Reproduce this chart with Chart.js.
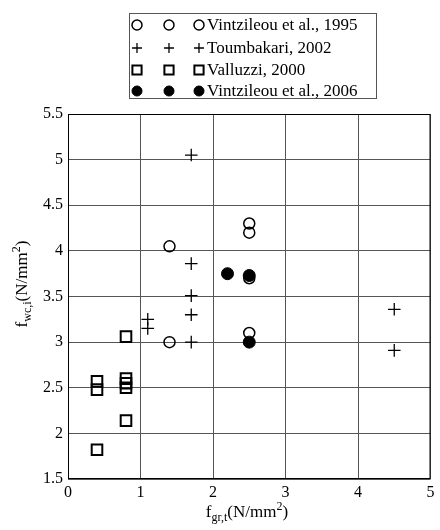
<!DOCTYPE html>
<html>
<head>
<meta charset="utf-8">
<script src="https://cdn.jsdelivr.net/npm/chart.js@4/dist/chart.umd.min.js"></script>
<style>
  html, body { margin: 0; padding: 0; background: #fff; }
  #wrap { width: 440px; height: 530px; position: relative; }
</style>
</head>
<body>
<div id="wrap"><canvas id="chart" width="440" height="530"></canvas></div>
<script>
// series data
var seriesNames = ["Vintzileou et al., 1995", "Toumbakari, 2002", "Valluzzi, 2000", "Vintzileou et al., 2006"];

var v1995X = [1.4, 1.4, 2.5, 2.5, 2.5, 2.5];
var v1995Y = [4.05, 3.0, 4.3, 4.2, 3.7, 3.1];

var toumbX = [1.7, 1.7, 1.7, 1.7, 1.7, 1.1, 1.1, 4.5, 4.5];
var toumbY = [5.05, 3.86, 3.51, 3.3, 3.0, 3.25, 3.15, 3.36, 2.91];

var vallX = [0.4, 0.4, 0.4, 0.8, 0.8, 0.8, 0.8, 0.8];
var vallY = [2.57, 2.48, 1.82, 3.06, 2.6, 2.55, 2.5, 2.14];

var v2006X = [2.2, 2.5, 2.5];
var v2006Y = [3.75, 3.73, 3.0];

var xTicks = [0, 1, 2, 3, 4, 5];
var yTicks = [1.5, 2, 2.5, 3, 3.5, 4, 4.5, 5, 5.5];

var serif = "'Liberation Serif', 'Times New Roman', serif";

function pts(xs, ys) {
  return xs.map(function(x, i) { return { x: x, y: ys[i] }; });
}

var styles = [
  { pointStyle: 'circle', radius: 5.5, borderWidth: 1.5, bg: 'rgba(0,0,0,0)', order: 3 },
  { pointStyle: 'cross', radius: 6.3, borderWidth: 1.3, bg: 'rgba(0,0,0,0)', order: 2 },
  { pointStyle: 'rect', radius: 7.5, borderWidth: 2, bg: 'rgba(0,0,0,0)', order: 1 },
  { pointStyle: 'circle', radius: 6, borderWidth: 1, bg: '#000', order: 0 }
];
var allData = [pts(v1995X, v1995Y), pts(toumbX, toumbY), pts(vallX, vallY), pts(v2006X, v2006Y)];

var datasets = seriesNames.map(function(name, i) {
  var s = styles[i];
  return {
    label: name,
    data: allData[i],
    pointStyle: s.pointStyle,
    pointRadius: s.radius,
    pointHoverRadius: s.radius,
    pointBorderWidth: s.borderWidth,
    borderColor: '#000',
    backgroundColor: s.bg,
    order: s.order,
    showLine: false
  };
});

// boxed legend with three markers per entry, plus axis titles with sub/superscripts
var decor = {
  id: 'decor',
  afterDraw: function(chart) {
    var ctx = chart.ctx;
    var area = chart.chartArea;
    ctx.save();

    // plot frame
    ctx.strokeStyle = '#000';
    ctx.lineWidth = 1;
    ctx.strokeRect(area.left + 0.5, area.top + 0.5, area.right - area.left - 1, area.bottom - area.top - 1);

    // legend box
    ctx.strokeStyle = '#555';
    ctx.strokeRect(129.5, 13.5, 247, 85);
    var rowsY = [25, 48, 70, 91];
    var marksX = [137, 169, 199];
    ctx.font = '17px ' + serif;
    ctx.fillStyle = '#000';
    ctx.textBaseline = 'middle';
    ctx.textAlign = 'left';
    seriesNames.forEach(function(name, i) {
      var s = styles[i];
      marksX.forEach(function(mx) {
        ctx.strokeStyle = '#000';
        ctx.fillStyle = s.bg;
        ctx.lineWidth = s.borderWidth;
        Chart.helpers.drawPoint(ctx, { pointStyle: s.pointStyle, radius: s.pointStyle === 'rect' ? 6.5 : 5, rotation: 0, borderWidth: s.borderWidth }, mx, rowsY[i]);
      });
      ctx.fillStyle = '#000';
      ctx.fillText(name, 207, rowsY[i] + 1);
    });

    // axis titles
    function richTitle(parts) {
      var w = 0;
      parts.forEach(function(p) { ctx.font = p.size + 'px ' + serif; w += ctx.measureText(p.t).width; });
      return w;
    }
    function drawRich(parts, x0, base) {
      var x = x0;
      parts.forEach(function(p) {
        ctx.font = p.size + 'px ' + serif;
        ctx.fillText(p.t, x, base + p.dy);
        x += ctx.measureText(p.t).width;
      });
    }
    ctx.fillStyle = '#000';
    ctx.textBaseline = 'alphabetic';
    ctx.textAlign = 'left';
    var xParts = [
      { t: 'f', size: 17, dy: 0 },
      { t: 'gr,t', size: 12, dy: 4 },
      { t: '(N/mm', size: 17, dy: 0 },
      { t: '2', size: 12, dy: -7 },
      { t: ')', size: 17, dy: 0 }
    ];
    var xw = richTitle(xParts);
    drawRich(xParts, 247 - xw / 2, 517);

    var yParts = [
      { t: 'f', size: 17, dy: 0 },
      { t: 'wc,i', size: 12, dy: 4 },
      { t: '(N/mm', size: 17, dy: 0 },
      { t: '2', size: 12, dy: -7 },
      { t: ')', size: 17, dy: 0 }
    ];
    var yw = richTitle(yParts);
    ctx.translate(27, 284);
    ctx.rotate(-Math.PI / 2);
    drawRich(yParts, -yw / 2, 0);

    ctx.restore();
  }
};

var chart = new Chart(document.getElementById('chart'), {
  type: 'scatter',
  data: { datasets: datasets },
  options: {
    responsive: false,
    animation: false,
    layout: { padding: { top: 114, right: 6, left: 0, bottom: 0 } },
    plugins: {
      legend: { display: false },
      tooltip: { enabled: false }
    },
    scales: {
      x: {
        type: 'linear',
        min: 0,
        max: 5,
        afterFit: function(scale) { scale.height = 51; },
        afterBuildTicks: function(scale) { scale.ticks = xTicks.map(function(v) { return { value: v }; }); },
        ticks: { color: '#000', font: { family: serif, size: 16 }, padding: 4, maxRotation: 0,
          callback: function(v) { return String(v); } },
        grid: { color: '#555', lineWidth: 1, tickLength: 0, drawTicks: false },
        border: { display: false }
      },
      y: {
        type: 'linear',
        min: 1.5,
        max: 5.5,
        afterFit: function(scale) { scale.width = 68; },
        afterBuildTicks: function(scale) { scale.ticks = yTicks.map(function(v) { return { value: v }; }); },
        ticks: { color: '#000', font: { family: serif, size: 16 }, padding: 5,
          callback: function(v) { return String(v); } },
        grid: { color: '#555', lineWidth: 1, tickLength: 0, drawTicks: false },
        border: { display: false }
      }
    }
  },
  plugins: [decor]
});
</script>
</body>
</html>
